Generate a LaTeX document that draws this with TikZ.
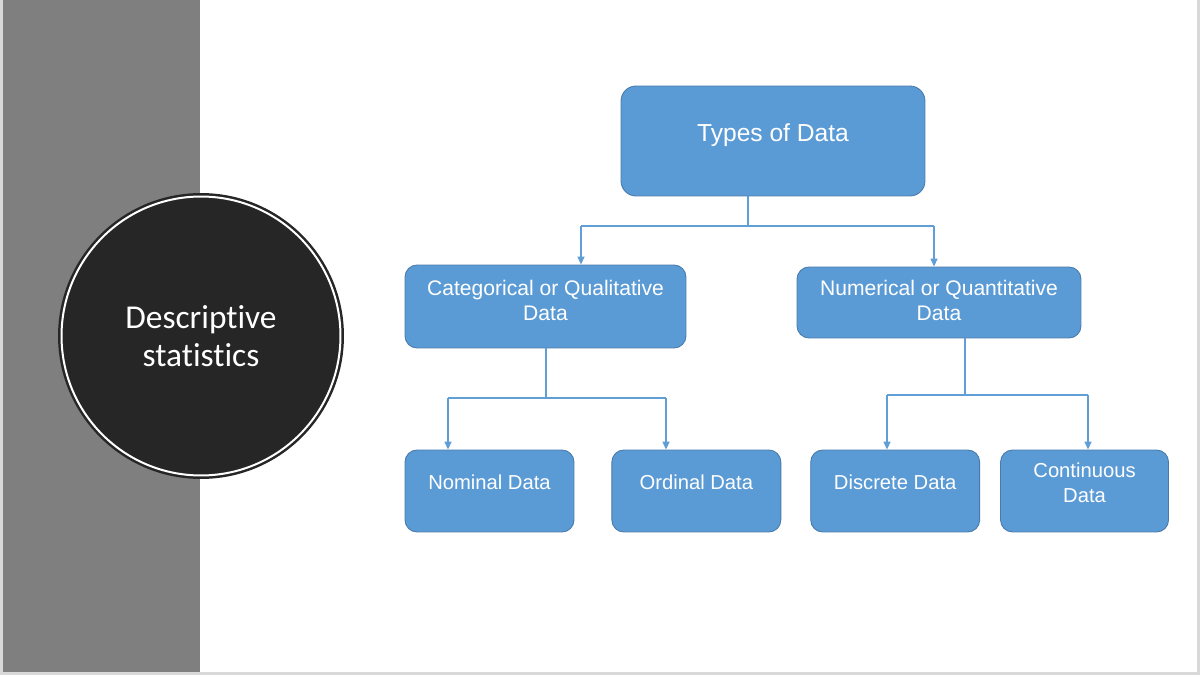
\documentclass[tikz,border=0pt]{standalone}
\usepackage{fontspec}
\setmainfont{Liberation Sans}
\newfontfamily\circfont[Ligatures=NoCommon]{Carlito}
\usepackage{tikz}
\usetikzlibrary{arrows.meta, positioning}
\definecolor{slidegray}{RGB}{127,127,127}
\definecolor{framegray}{RGB}{217,217,217}
\definecolor{circdark}{RGB}{38,38,38}
\definecolor{boxblue}{RGB}{91,155,213}
\definecolor{edgeblue}{RGB}{72,122,170}
\definecolor{linkblue}{RGB}{96,158,214}
\tikzset{
    % Title circle
    circnode/.style={circle, fill=circdark, draw=circdark, double=white,
                double distance=0.04cm, line width=0.05cm, minimum size=5.58cm,
                inner sep=0pt, align=center, text=white,
                font=\circfont\fontsize{19}{21.5}\selectfont},
    % Data type boxes
    databox/.style={rectangle, rounded corners=0.24cm, draw=edgeblue, line width=0.5pt,
                fill=boxblue, text=white, align=center, inner sep=0pt},
    topbox/.style={databox, rounded corners=0.3cm, minimum width=6.08cm,
                minimum height=2.2cm, font=\fontsize{14}{16.8}\selectfont, text depth=10pt},
    midbox/.style={databox, minimum width=5.62cm, minimum height=1.66cm,
                font=\fontsize{12}{14.2}\selectfont},
    leafbox/.style={databox, minimum width=3.38cm, minimum height=1.64cm,
                font=\fontsize{11.5}{14.2}\selectfont},
    % Connectors
    link/.style={linkblue, line width=0.8pt},
    linkarrow/.style={link, -{Triangle[length=0.16cm, width=0.14cm]}},
}

\begin{document}
\begin{tikzpicture}[x=0.02cm, y=-0.02cm]
\useasboundingbox (0,0) rectangle (1200,675);
\fill[white] (0,0) rectangle (1200,675);
\fill[slidegray] (3,0) rectangle (200,672);
\draw[framegray, line width=0.06cm] (1.5,0) -- (1.5,673.5) -- (1198.5,673.5) -- (1198.5,0);

\node[circnode] (desc) at (201,336) {Descriptive\\statistics};

\node[topbox] (types) at (773,141) {Types of Data};
\node[midbox, text depth=6.8pt] (cat) at (545.5,306.5) {Categorical or Qualitative\\Data};
\node[midbox, minimum width=5.68cm, minimum height=1.42cm, text depth=2.3pt] (num) at (939,302.5) {Numerical or Quantitative\\Data};

\node[leafbox, text depth=10.3pt] (nominal) at (489.5,491) {Nominal Data};
\node[leafbox, text depth=10.3pt, right=0.74cm of nominal] (ordinal) {Ordinal Data};
\node[leafbox, text depth=10.3pt, right=0.58cm of ordinal] (discrete) {Discrete Data};
\node[leafbox, text depth=9.7pt, minimum width=3.36cm, right=0.4cm of discrete] (continuous) {Continuous\\Data};

\coordinate (jtop) at (748,226);
\coordinate (acat) at (581,226);
\coordinate (anum) at (934,226);
\coordinate (jcat) at (546,398);
\coordinate (anom) at (448,398);
\coordinate (aord) at (666,398);
\coordinate (jnum) at (965,395);
\coordinate (adis) at (887,395);
\coordinate (acon) at (1088,395);

\draw[link] (types.south -| jtop) -- (jtop);
\draw[link] (acat) -- (anum);
\draw[linkarrow] (acat) -- (acat |- cat.north);
\draw[linkarrow] (anum) -- (anum |- num.north);

\draw[link] (cat.south -| jcat) -- (jcat);
\draw[link] (anom) -- (aord);
\draw[linkarrow] (anom) -- (anom |- nominal.north);
\draw[linkarrow] (aord) -- (aord |- ordinal.north);

\draw[link] (num.south -| jnum) -- (jnum);
\draw[link] (adis) -- (acon);
\draw[linkarrow] (adis) -- (adis |- discrete.north);
\draw[linkarrow] (acon) -- (acon |- continuous.north);
\end{tikzpicture}
\end{document}
